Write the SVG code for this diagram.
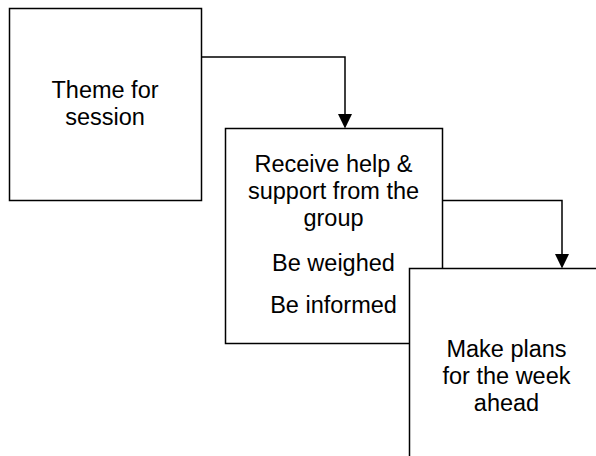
<svg xmlns="http://www.w3.org/2000/svg" width="596" height="456" viewBox="0 0 596 456">
<style>
.box{fill:#fff;stroke:#000;stroke-width:1.5}
.lbl{font-family:"Liberation Sans",Arial,sans-serif;font-size:23.5px;fill:#000;text-anchor:middle}
.conn{fill:none;stroke:#000;stroke-width:1.5}
.head{fill:#000}
</style>
<rect width="596" height="456" fill="#fff"/>
<g id="node-theme">
<rect class="box" x="9.5" y="8.5" width="192" height="192"/>
<text class="lbl" x="105" y="98">Theme for</text>
<text class="lbl" x="105" y="125">session</text>
</g>
<g id="node-receive">
<rect class="box" x="225.5" y="128.5" width="217" height="215"/>
<text class="lbl" x="333.5" y="172">Receive help &amp;</text>
<text class="lbl" x="333.5" y="199">support from the</text>
<text class="lbl" x="333.5" y="226">group</text>
<text class="lbl" x="333.5" y="271">Be weighed</text>
<text class="lbl" x="333.5" y="313">Be informed</text>
</g>
<g id="connectors">
<polyline class="conn" points="201.5,57 345,57 345,116"/>
<polygon class="head" points="345,128.5 338,114 352,114"/>
<polyline class="conn" points="442.5,200.5 562,200.5 562,256"/>
<polygon class="head" points="562,268.5 555,254 569,254"/>
</g>
<g id="node-plans">
<rect class="box" x="409.5" y="268.5" width="194" height="194"/>
<text class="lbl" x="506.5" y="357">Make plans</text>
<text class="lbl" x="506.5" y="384">for the week</text>
<text class="lbl" x="506.5" y="411">ahead</text>
</g>
</svg>
